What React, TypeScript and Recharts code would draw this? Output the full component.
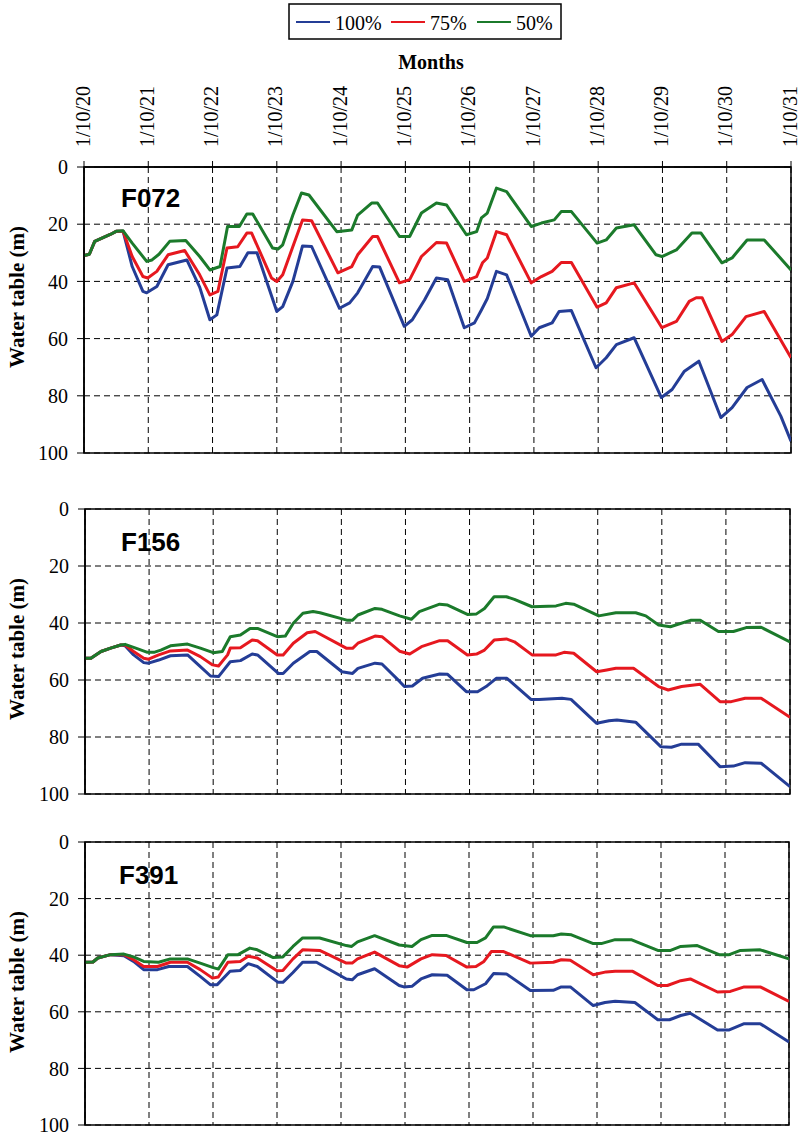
import React from 'react';
import { LineChart, Line, XAxis, YAxis, CartesianGrid, ReferenceArea } from 'recharts';

// ---------- data ----------
const MONTH_TICKS = [0, 12, 24, 36, 48, 60, 72, 84, 96, 108, 120, 132];
const DATE_LABELS = ['1/10/20', '1/10/21', '1/10/22', '1/10/23', '1/10/24', '1/10/25', '1/10/26', '1/10/27', '1/10/28', '1/10/29', '1/10/30', '1/10/31'];
const DEPTH_TICKS = [0, 20, 40, 60, 80, 100];
const SERIES_NAMES = ['100%', '75%', '50%'];
const SERIES_COLORS = ['#243D96', '#E6181F', '#1B7A2B'];
const WELL_NAMES = ['F072', 'F156', 'F391'];
const X_TITLE = 'Months';
const Y_TITLE = 'Water table (m)';

type Pt = [number, number]; // [month index since 1/10/20, water table depth (m)]

const F072_50: Pt[] = [[0, 31], [1, 30.5], [2, 26], [5, 23.5], [6, 22.5], [7.3, 22.3], [9, 26.6], [11.7, 33], [12.7, 32.5], [14, 30.5], [16, 26], [19, 25.7], [21.6, 31.3], [23.5, 36], [25.4, 34.8], [26.8, 20.8], [29, 20.8], [30.4, 16.4], [31.5, 16.4], [35.2, 28.3], [36.2, 28.7], [37.1, 27.2], [39, 16.8], [40.6, 9.1], [42, 9.8], [47.2, 22.6], [50, 22], [51.1, 16.8], [53.7, 12.6], [54.8, 12.6], [58.9, 24.3], [60.8, 24.3], [63, 16.1], [65.8, 12.6], [67.7, 13.3], [71.4, 23.7], [73.3, 22.6], [74.2, 17.8], [75.3, 16.1], [77, 7.4], [78.9, 8.6], [83.5, 20.8], [85.4, 19.6], [87.8, 18.5], [89.1, 15.6], [91, 15.6], [95.8, 26.6], [97.5, 25.5], [99.4, 21.3], [102.7, 20.2], [106.8, 30.7], [107.9, 31.3], [110.6, 29], [113.5, 23.1], [115.2, 23.1], [119.1, 33.5], [121, 31.8], [123.8, 25.5], [127, 25.5], [132, 36]];
const F072_75: Pt[] = [[0, 31], [1, 30.5], [2, 26], [5, 23.5], [6, 22.5], [7.3, 22.5], [9, 31.3], [11, 38.3], [11.9, 38.8], [13.6, 36.5], [15.7, 30.7], [18.8, 29.2], [21.6, 37.7], [23.5, 44.7], [25, 43.5], [26.7, 28.3], [28.7, 27.9], [30.4, 23.1], [31.3, 23.1], [35, 38.8], [36, 40], [37.1, 37.7], [39, 27.8], [40.8, 18.5], [42.5, 18.8], [47.4, 37], [50, 34.8], [51.1, 30.7], [53.9, 24.3], [54.8, 24.3], [58.9, 40.5], [60.8, 39.4], [63, 31.3], [65.8, 26.4], [67.7, 26.6], [71, 40], [73.3, 38.3], [74.4, 33.5], [75.3, 31.8], [77, 22.6], [78.9, 23.7], [83.5, 40.5], [85.4, 38.3], [87.4, 36.5], [89.1, 33.4], [91, 33.4], [95.8, 49], [97.5, 47.5], [99.4, 42.2], [102.7, 40.5], [107.9, 56.2], [110.6, 54], [113, 47], [114.3, 45.7], [115.4, 45.7], [119.1, 61], [121, 58.6], [123.6, 52.3], [127, 50.5], [132, 66.7]];
const F072_100: Pt[] = [[0, 31], [1, 30.5], [2, 26], [5, 23.5], [6, 22.5], [7.3, 22.5], [9, 34.8], [11, 43.5], [11.7, 44], [13.6, 41.8], [15.7, 34.2], [19.2, 32.5], [21.6, 42], [23.5, 53.4], [24.8, 51.7], [26.7, 35.3], [29.1, 34.8], [30.6, 30], [32.3, 30], [36, 50.5], [37.1, 48.8], [39, 40], [40.8, 27.6], [42.5, 27.8], [47.7, 49.4], [49.6, 47.5], [51.1, 44], [53.9, 34.8], [55.2, 35], [59.8, 55.7], [61.3, 53.4], [63.6, 46.4], [65.8, 38.8], [67.9, 39.4], [71, 56.2], [72.9, 54.5], [74.2, 50], [75.3, 46], [77, 36.5], [78.9, 37.7], [83.5, 59.2], [85, 56.2], [87.4, 54.5], [88.7, 50.5], [91, 50.2], [95.6, 70.2], [97.5, 66.7], [99.4, 62.1], [102.7, 59.7], [107.8, 80.6], [109.8, 77.8], [112.1, 71.4], [114.8, 67.9], [118.9, 87.6], [121, 84.1], [123.8, 77.1], [126.6, 74.3], [130.1, 87.1], [132, 95.9]];

const F156_50: Pt[] = [[0, 52.4], [1.1, 52.4], [3, 50], [4.8, 48.8], [6.7, 47.7], [7.5, 47.5], [9.5, 48.8], [11.7, 50.3], [12.9, 50.3], [14.2, 49.5], [16, 48], [19.2, 47.4], [21.6, 48.8], [24, 50.4], [25.7, 50], [27.2, 44.8], [29.1, 44.2], [30.9, 41.9], [32.3, 41.9], [36, 44.8], [37.5, 44.6], [39, 40.1], [40.8, 36.6], [42.7, 36], [44, 36.4], [49, 39], [50.1, 39], [51.1, 37.2], [54.3, 34.9], [55.6, 35.2], [58.9, 37.5], [61.1, 38.7], [62.6, 36], [66.4, 33.4], [67.9, 33.7], [71.6, 37], [73.3, 36.8], [74.8, 34.9], [76.6, 30.8], [78.9, 30.8], [80.4, 31.7], [83.7, 34.3], [88.2, 34], [90, 33.1], [91.5, 33.4], [96.2, 37.5], [99.4, 36.4], [103.1, 36.4], [105, 37.5], [107.4, 40.7], [109.6, 41.3], [113.5, 39], [115.2, 39], [118.6, 43], [121.4, 43], [123.8, 41.6], [126.6, 41.5], [132, 46.6]];
const F156_75: Pt[] = [[0, 52.4], [1.1, 52.4], [3, 50], [4.8, 48.8], [6.7, 47.7], [7.5, 47.7], [9.1, 50], [11, 52.4], [11.9, 52.7], [13.8, 51.2], [16, 49.8], [19.2, 49.5], [21.6, 51.8], [23.9, 54.7], [25, 55.1], [26.7, 51.2], [27.2, 48.8], [29.1, 48.7], [31.3, 46], [32.3, 46.2], [36, 51.2], [37.1, 51.2], [39, 47.1], [41.6, 43.4], [43.1, 43], [49, 48.9], [50.1, 48.9], [51.1, 47.1], [54.3, 44.6], [55.6, 44.8], [58.9, 49.9], [60.8, 50.9], [63, 48.3], [66.4, 46.2], [67.9, 46.2], [71.6, 51.2], [73.3, 50.9], [74.8, 49.5], [76.6, 46], [78.9, 45.6], [80.4, 46.6], [83.7, 51.2], [88.2, 51.2], [89.7, 50.3], [91.5, 50.6], [95.8, 57.1], [97.7, 56.5], [99.4, 55.9], [102.7, 55.9], [107.4, 62.3], [109.2, 63.5], [111.7, 62.3], [115.2, 61.5], [118.9, 67.6], [121, 67.6], [123.6, 66.4], [126.6, 66.4], [132, 73.1]];
const F156_100: Pt[] = [[0, 52.4], [1.1, 52.4], [3, 50], [4.8, 48.8], [6.7, 47.7], [7.5, 48], [9.1, 51.2], [11, 53.9], [11.9, 54.1], [13.8, 53], [16, 51.5], [19.2, 51.2], [21.6, 55.3], [23.5, 58.6], [25, 58.8], [27.2, 53.6], [29.1, 53.2], [31.3, 50.9], [32.3, 51.2], [36.2, 57.7], [37.1, 57.7], [39, 54.1], [42.1, 50], [43.4, 50], [48.1, 57.1], [50.1, 57.7], [51.1, 55.9], [54.3, 54.1], [55.6, 54.4], [58.9, 60.5], [59.8, 62.3], [61.3, 62.1], [63.2, 59.4], [66.4, 57.9], [67.9, 58], [71.4, 64.1], [73.5, 64.1], [75.1, 62.3], [77, 59.4], [79, 59.4], [83.5, 66.8], [85, 66.8], [89.3, 66.4], [91, 66.8], [95.8, 75.2], [98.1, 74.3], [99.6, 74], [103.1, 74.8], [107.8, 83.4], [109.8, 83.6], [111.7, 82.5], [114.8, 82.5], [118.9, 90.4], [121.4, 90.2], [123.6, 89], [126.6, 89.2], [132, 97.4]];

const F391_50: Pt[] = [[0, 42.5], [1.5, 42.4], [2.4, 41], [4.8, 39.8], [7.3, 39.6], [9.1, 40.6], [11, 42.2], [13.8, 42.5], [16, 41.3], [19.2, 41.3], [21.6, 42.8], [23.9, 44.3], [25, 44.9], [26.8, 39.8], [28.7, 39.8], [30.9, 37.5], [32.3, 38.1], [35.2, 40.8], [37.1, 40.6], [39, 36.9], [40.8, 33.9], [44, 33.9], [49, 36.6], [50, 36.9], [51.1, 35.3], [54.3, 33.1], [58.9, 36.4], [61.3, 36.9], [63, 34.5], [65.1, 33], [67.7, 33], [71.6, 35.5], [73.5, 35.5], [75.1, 33.9], [76.6, 30], [78.5, 30], [83.5, 33.1], [87.8, 33.1], [89.3, 32.5], [91.2, 32.8], [95.3, 35.9], [96.8, 35.9], [99.4, 34.5], [102.4, 34.5], [107.4, 38.3], [109.8, 38.3], [111.7, 36.9], [114.8, 36.6], [118.9, 39.8], [120.8, 39.8], [122.9, 38.3], [126.6, 38.1], [132, 41.3]];
const F391_75: Pt[] = [[0, 42.5], [1.5, 42.4], [2.4, 41], [4.8, 39.8], [7.3, 39.8], [9.1, 41.6], [11, 44], [13.6, 44], [16, 42.5], [19.2, 42.5], [21.6, 45.1], [23.9, 48.1], [25, 47.7], [26.8, 42.5], [29.1, 42.2], [30.6, 40.4], [32.3, 41], [36, 45.5], [37.1, 45.4], [39, 41.3], [40.8, 38.1], [44, 38.3], [49, 42.8], [50.1, 42.8], [51.1, 41.3], [54.3, 38.9], [58.9, 43.7], [60.4, 44.2], [63, 41.3], [65.1, 39.8], [67.7, 40.1], [71.6, 44.2], [73.3, 44], [74.8, 42.2], [76.2, 38.7], [78.5, 38.7], [83.5, 42.8], [87.8, 42.5], [89.3, 41.6], [91, 41.8], [95.3, 46.9], [97.7, 45.9], [99.4, 45.7], [102.7, 45.7], [107.4, 50.7], [109.2, 50.7], [111.7, 49], [113.5, 48.4], [118.6, 53], [121, 52.8], [123.6, 51.2], [126.6, 51.2], [132, 56.3]];
const F391_100: Pt[] = [[0, 42.5], [1.5, 42.4], [2.4, 41], [4.8, 39.8], [7.3, 40.2], [9.1, 42.2], [11, 45.1], [13.6, 45.1], [15.7, 44], [19.2, 44], [21.6, 47.5], [23.5, 50.4], [24.8, 50.4], [27.2, 45.7], [29.1, 45.4], [30.6, 43], [32.3, 44], [36.2, 49.6], [37.1, 49.6], [39, 46.1], [40.8, 42.5], [43.4, 42.5], [49, 48.4], [50.1, 48.7], [51.1, 46.9], [54.3, 44.8], [58.9, 50.7], [59.8, 51.2], [61.3, 51], [63, 48.4], [65.1, 46.9], [67.9, 47.1], [71.6, 52.2], [72.9, 52.2], [75.1, 50.1], [76.6, 46.5], [79, 46.6], [83.5, 52.5], [87.8, 52.4], [89.3, 51.2], [91, 51.2], [95.3, 57.8], [97.5, 56.7], [99.4, 56.3], [103.1, 56.7], [107.4, 62.8], [109.6, 62.8], [111.7, 61.3], [113.5, 60.5], [118.6, 66.4], [120.8, 66.4], [123.6, 64.2], [126.6, 64.2], [132, 70.7]];

// ---------- layout ----------
const SERIF = '"Liberation Serif", "Times New Roman", Times, serif';
const SANS = '"Liberation Sans", Arial, Helvetica, sans-serif';

const toRows = (pts: Pt[]) => pts.map(([m, v]) => ({ m, v }));

interface PanelCfg {
  top: number; height: number;
  plotTop: number; plotBottom: number; plotLeft: number; plotRight: number;
  series: Pt[][]; topAxis: boolean;
  labelX: number; labelBaseline: number; yTitleCenter: number;
}

const PANELS: PanelCfg[] = [
  { top: 0, height: 470, plotTop: 167, plotBottom: 453, plotLeft: 84, plotRight: 791, series: [F072_100, F072_75, F072_50], topAxis: true, labelX: 121, labelBaseline: 207, yTitleCenter: 297 },
  { top: 480, height: 330, plotTop: 509, plotBottom: 794, plotLeft: 85, plotRight: 790, series: [F156_100, F156_75, F156_50], topAxis: false, labelX: 121, labelBaseline: 551, yTitleCenter: 649 },
  { top: 820, height: 316, plotTop: 842, plotBottom: 1125, plotLeft: 85, plotRight: 789, series: [F391_100, F391_75, F391_50], topAxis: false, labelX: 119, labelBaseline: 884, yTitleCenter: 982 },
];

function TopTick(props: any) {
  const { x, y, payload } = props;
  const i = MONTH_TICKS.indexOf(payload.value);
  return (
    <text x={x} y={y} transform={`rotate(-90 ${x} ${y})`} textAnchor="start" dy="0.28em"
      fontSize={20} fontFamily={SERIF} fill="#000">{DATE_LABELS[i]}</text>
  );
}

function Panel({ cfg }: { cfg: PanelCfg }) {
  const AXIS_W = 60;
  const AXIS_H = 60;
  const margin = {
    top: cfg.plotTop - cfg.top - (cfg.topAxis ? AXIS_H : 0),
    bottom: cfg.top + cfg.height - cfg.plotBottom,
    left: cfg.plotLeft - AXIS_W,
    right: 800 - cfg.plotRight,
  };
  return (
    <div style={{ position: 'absolute', left: 0, top: cfg.top, width: 800, height: cfg.height }}>
      <LineChart width={800} height={cfg.height} margin={margin}>
        <CartesianGrid stroke="#000" strokeWidth={1} strokeDasharray="6 4"
          verticalValues={MONTH_TICKS} horizontalValues={DEPTH_TICKS} />
        <XAxis type="number" dataKey="m" domain={[0, 132]} ticks={MONTH_TICKS} interval={0}
          orientation="top" hide={!cfg.topAxis} height={cfg.topAxis ? AXIS_H : 0}
          tick={<TopTick />} tickSize={6} tickMargin={14}
          axisLine={{ stroke: '#000', strokeWidth: 1.5 }} tickLine={{ stroke: '#000' }} allowDataOverflow />
        <YAxis type="number" domain={[0, 100]} reversed ticks={DEPTH_TICKS} interval={0} width={AXIS_W}
          tickSize={7} tickMargin={9}
          tick={{ fontSize: 20, fontFamily: SERIF, fill: '#000' }}
          axisLine={{ stroke: '#000', strokeWidth: 1.5 }} tickLine={{ stroke: '#000' }} allowDataOverflow />
        <ReferenceArea x1={0} x2={132} y1={0} y2={100} fill="none" fillOpacity={0} stroke="#000" strokeWidth={1.5} />
        {cfg.series.map((pts, i) => (
          <Line key={SERIES_NAMES[i]} name={SERIES_NAMES[i]} data={toRows(pts)} dataKey="v" type="linear"
            stroke={SERIES_COLORS[i]} strokeWidth={3} dot={false} activeDot={false}
            strokeLinejoin="round" isAnimationActive={false} />
        ))}
      </LineChart>
    </div>
  );
}

function Overlay() {
  const legendItems = [
    { x: 296, tx: 335 },
    { x: 391, tx: 430 },
    { x: 477, tx: 516 },
  ];
  return (
    <svg width={800} height={1136} style={{ position: 'absolute', left: 0, top: 0, pointerEvents: 'none' }}>
      <rect x={289} y={4} width={272} height={35} fill="#fff" stroke="#000" strokeWidth={1.5} />
      {legendItems.map((it, i) => (
        <g key={SERIES_NAMES[i]}>
          <line x1={it.x} x2={it.x + 34} y1={22} y2={22} stroke={SERIES_COLORS[i]} strokeWidth={2} />
          <text x={it.tx} y={30} fontSize={20} fontFamily={SERIF} fill="#000">{SERIES_NAMES[i]}</text>
        </g>
      ))}
      <text x={431} y={69} textAnchor="middle" fontSize={20} fontWeight="bold" fontFamily={SERIF} fill="#000">{X_TITLE}</text>
      {PANELS.map((p, i) => (
        <g key={WELL_NAMES[i]}>
          <text x={p.labelX} y={p.labelBaseline} fontSize={26} fontWeight="bold" fontFamily={SANS} fill="#000">{WELL_NAMES[i]}</text>
          <text transform={`translate(17 ${p.yTitleCenter}) rotate(-90)`} textAnchor="middle" dy="0.35em"
            fontSize={21} fontWeight="bold" fontFamily={SERIF} fill="#000">{Y_TITLE}</text>
        </g>
      ))}
    </svg>
  );
}

export default function App() {
  return (
    <div style={{ position: 'absolute', left: 0, top: 0, width: 800, height: 1136, background: '#fff' }}>
      {PANELS.map((p, i) => <Panel key={i} cfg={p} />)}
      <Overlay />
    </div>
  );
}
